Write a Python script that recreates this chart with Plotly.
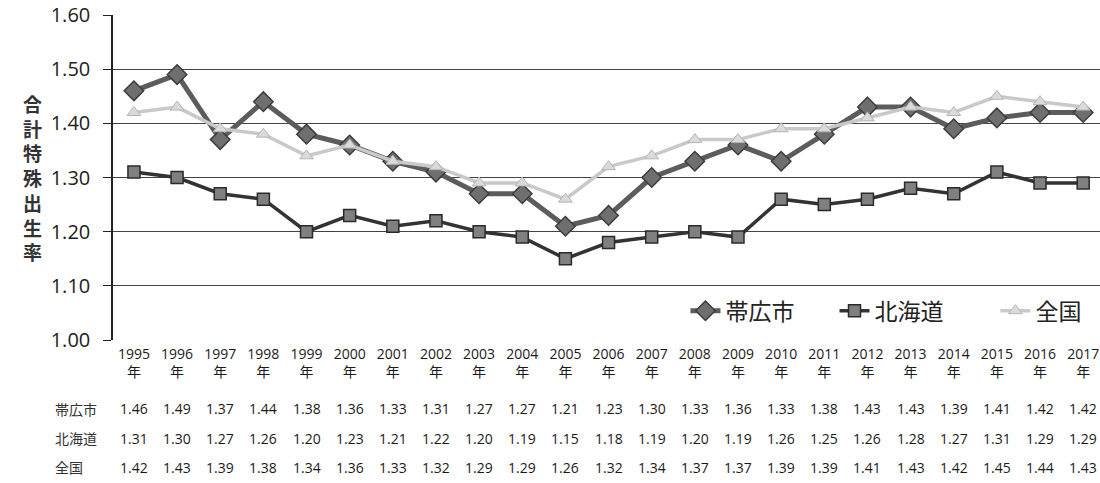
import plotly.graph_objects as go

years = [str(y) for y in range(1995, 2018)]
obihiro = [1.46, 1.49, 1.37, 1.44, 1.38, 1.36, 1.33, 1.31, 1.27, 1.27, 1.21, 1.23,
           1.30, 1.33, 1.36, 1.33, 1.38, 1.43, 1.43, 1.39, 1.41, 1.42, 1.42]
hokkaido = [1.31, 1.30, 1.27, 1.26, 1.20, 1.23, 1.21, 1.22, 1.20, 1.19, 1.15, 1.18,
            1.19, 1.20, 1.19, 1.26, 1.25, 1.26, 1.28, 1.27, 1.31, 1.29, 1.29]
zenkoku = [1.42, 1.43, 1.39, 1.38, 1.34, 1.36, 1.33, 1.32, 1.29, 1.29, 1.26, 1.32,
           1.34, 1.37, 1.37, 1.39, 1.39, 1.41, 1.43, 1.42, 1.45, 1.44, 1.43]
series_names = ["帯広市", "北海道", "全国"]
y_ticks = [1.00, 1.10, 1.20, 1.30, 1.40, 1.50, 1.60]
y_title = "合計特殊出生率"

FONT = "Open Sans, Noto Sans CJK JP, sans-serif"
JP = "Noto Sans CJK JP, sans-serif"
xs = list(range(len(years)))

fig = go.Figure()
fig.add_trace(go.Scatter(
    x=xs, y=obihiro, name=series_names[0], mode="lines+markers", legend="legend",
    line=dict(color="#5c5c5c", width=5),
    marker=dict(symbol="diamond", size=15, color="#6f6f6f",
                line=dict(color="#3c3c3c", width=1.5))))
fig.add_trace(go.Scatter(
    x=xs, y=hokkaido, name=series_names[1], mode="lines+markers", legend="legend2",
    line=dict(color="#333333", width=3.5),
    marker=dict(symbol="square", size=12, color="#808080",
                line=dict(color="#2a2a2a", width=1.5))))
fig.add_trace(go.Scatter(
    x=xs, y=zenkoku, name=series_names[2], mode="lines+markers", legend="legend3",
    line=dict(color="#c9c9c9", width=3.5),
    marker=dict(symbol="triangle-up", size=12, color="#dadada",
                line=dict(color="#b5b5b5", width=1))))

# data table below the chart
row_y = [-0.212, -0.302, -0.391]
for r, (name, vals) in enumerate(zip(series_names, [obihiro, hokkaido, zenkoku])):
    fig.add_annotation(x=0.0, xref="paper", xanchor="left", xshift=-60,
                       y=row_y[r], yref="paper", yanchor="middle",
                       text=name, showarrow=False,
                       font=dict(family=JP, size=14, color="#333333"))
    for i, v in enumerate(vals):
        fig.add_annotation(x=i, xref="x", xanchor="center",
                           y=row_y[r], yref="paper", yanchor="middle",
                           text=f"{v:.2f}", showarrow=False,
                           font=dict(family=FONT, size=14, color="#1a1a1a"))

# y-axis title, stacked vertically one character per line
fig.add_annotation(x=0, xref="paper", xanchor="center", xshift=-81,
                   y=0.5, yref="paper", yanchor="middle",
                   text="<br>".join(f"<b>{ch}</b>" for ch in y_title),
                   showarrow=False,
                   font=dict(family=JP, size=19, color="#333333"))

leg_common = dict(orientation="h", y=0.09, yanchor="middle", xanchor="left",
                  font=dict(family=JP, size=23, color="#222222"),
                  bgcolor="rgba(255,255,255,0)")

fig.update_layout(
    width=1100, height=483,
    margin=dict(l=113, r=0, t=15, b=143),
    paper_bgcolor="white", plot_bgcolor="white",
    font=dict(family=FONT, color="#222222"),
    showlegend=True,
    legend=dict(x=0.580, **leg_common),
    legend2=dict(x=0.731, **leg_common),
    legend3=dict(x=0.894, **leg_common),
    xaxis=dict(range=[-0.485, 22.39], tickvals=xs,
               ticktext=[f"{y}<br>年" for y in years],
               tickfont=dict(family=FONT, size=14, color="#1a1a1a"),
               ticklabelstandoff=4,
               showgrid=False, zeroline=False, showline=False, ticks=""),
    yaxis=dict(range=[1.0, 1.6], tickvals=y_ticks,
               ticktext=[f"{v:.2f}" for v in y_ticks],
               tickfont=dict(family=FONT, size=20, color="#222222"),
               ticklabelstandoff=9,
               showgrid=True, gridcolor="#444444", gridwidth=1.2,
               zeroline=False, showline=True, linecolor="#222222", linewidth=1.5,
               ticks="outside", ticklen=8, tickcolor="#222222"),
)

fig.write_html("out.html", config={"displayModeBar": False},
               post_script="document.body.style.margin='0';document.body.style.padding='0';")
